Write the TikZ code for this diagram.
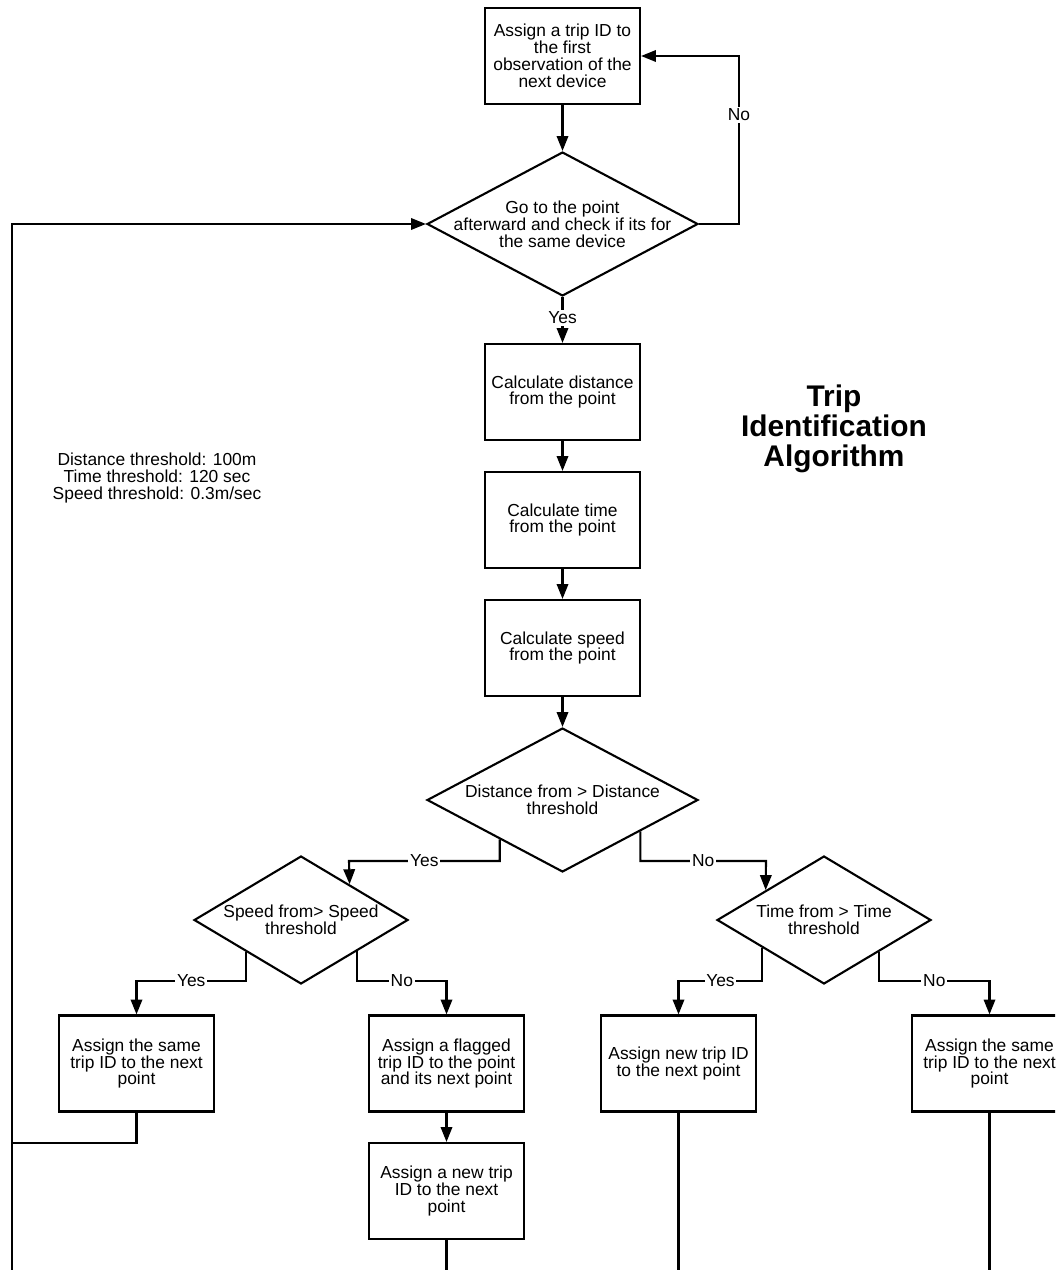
\documentclass[tikz,border=0pt]{standalone}
\usepackage{fontspec}
\setmainfont{Liberation Sans}
\usetikzlibrary{positioning,calc,shapes.geometric,arrows.meta}
\newcommand*{\txt}{\fontsize{9.9}{9.6}\selectfont}
\tikzset{>={Triangle[length=8.5pt,width=6.5pt]}}
\tikzset{
  blk/.style={draw,line width=1.2pt,minimum width=3.1cm,minimum height=1.92cm,inner sep=0pt,align=center,font=\txt},
  dec/.style={draw,diamond,line width=1.2pt,aspect=1.88,minimum width=5.42cm,minimum height=2.88cm,inner sep=0pt,align=center,font=\txt},
  smalldec/.style={dec,aspect=1.67,minimum width=4.28cm,minimum height=2.56cm},
  lbl/.style={fill=white,inner sep=1pt,font=\txt},
  flow/.style={line width=1.2pt,->},
  wire/.style={line width=1.2pt}
}
\begin{document}
\begin{tikzpicture}[x=0.02cm,y=-0.02cm]
\useasboundingbox (0,0) rectangle (1055,1270);
\clip (0,0) rectangle (1055,1270);
\node[blk] (first) at (562.5,56) {Assign a trip ID to\\the first\\observation of the\\next device};
\node[dec,label={[font=\txt,align=center]center:Go to the point\\afterward and check if its for\\the same device}] (check) at (562.5,224) {};
\node[blk] (cdist) at (562.5,392) {Calculate distance\\from the point};
\node[blk] (ctime) at (562.5,520) {Calculate time\\from the point};
\node[blk] (cspeed) at (562.5,648) {Calculate speed\\from the point};
\node[dec] (dist) at (562.5,800) {Distance from > Distance\\threshold};
\node[smalldec] (speed) at (301,920) {Speed from> Speed\\threshold};
\node[smalldec] (time) at (824,920) {Time from > Time\\threshold};
\node[blk] (same) at (136.5,1063.5) {Assign the same\\trip ID to the next\\point};
\node[blk] (flag) at (446.5,1063.5) {Assign a flagged\\trip ID to the point\\and its next point};
\node[blk] (newtrip) at (446.5,1191) {Assign a new trip\\ID to the next\\point};
\node[blk] (newid) at (678.5,1063.5) {Assign new trip ID\\to the next point};
\node[blk] (same2) at (989.5,1063.5) {Assign the same\\trip ID to the next\\point};
\node[align=center,font=\txt] (note) at (157,478) {Distance threshold: 100m\\Time threshold: 120 sec\\Speed threshold: 0.3m/sec};
\node[align=center,font=\fontsize{17}{17}\selectfont\bfseries] (title) at (834,429) {Trip\\Identification\\Algorithm};

\coordinate (noturn) at (739,56);
\coordinate (dy) at (349,861);
\coordinate (dn) at (766,861);
\coordinate (sy) at (136.5,981);
\coordinate (sn) at (446.5,981);
\coordinate (ty) at (678.5,981);
\coordinate (tn) at (989.5,981);
\coordinate (back) at (12,1143);
\coordinate (bot) at (12,1275);

\draw[flow] (first) -- (check);
\draw[flow] (check.east) -- (check.east -| noturn) -- node[lbl,pos=.65] {No} (noturn) -- (first.east);
\draw[flow] (check) -- node[lbl,pos=.45] {Yes} (cdist);
\draw[flow] (cdist) -- (ctime);
\draw[flow] (ctime) -- (cspeed);
\draw[flow] (cspeed) -- (dist);
\draw[flow] ($(dist.south)!.46!(dist.west)$) |- node[lbl,pos=.75] {Yes} (dy) -- ($(speed.north)!.45!(speed.east)$);
\draw[flow] ($(dist.south)!.57!(dist.east)$) |- node[lbl,pos=.75] {No} (dn) -- ($(time.north)!.54!(time.west)$);
\draw[flow] ($(speed.south)!.51!(speed.west)$) |- node[lbl,pos=.75] {Yes} (sy) -- (same);
\draw[flow] ($(speed.south)!.52!(speed.east)$) |- node[lbl,pos=.75] {No} (sn) -- (flag);
\draw[flow] ($(time.south)!.57!(time.west)$) |- node[lbl,pos=.75] {Yes} (ty) -- (newid);
\draw[flow] ($(time.south)!.51!(time.east)$) |- node[lbl,pos=.75] {No} (tn) -- (same2);
\draw[flow] (flag) -- (newtrip);
\draw[wire] (same.south) |- (back);
\draw[flow] (bot) |- (check.west);
\draw[wire] (newtrip.south) -- (newtrip.south |- bot);
\draw[wire] (newid.south) -- (newid.south |- bot);
\draw[wire] (same2.south) -- (same2.south |- bot);
\end{tikzpicture}
\end{document}
